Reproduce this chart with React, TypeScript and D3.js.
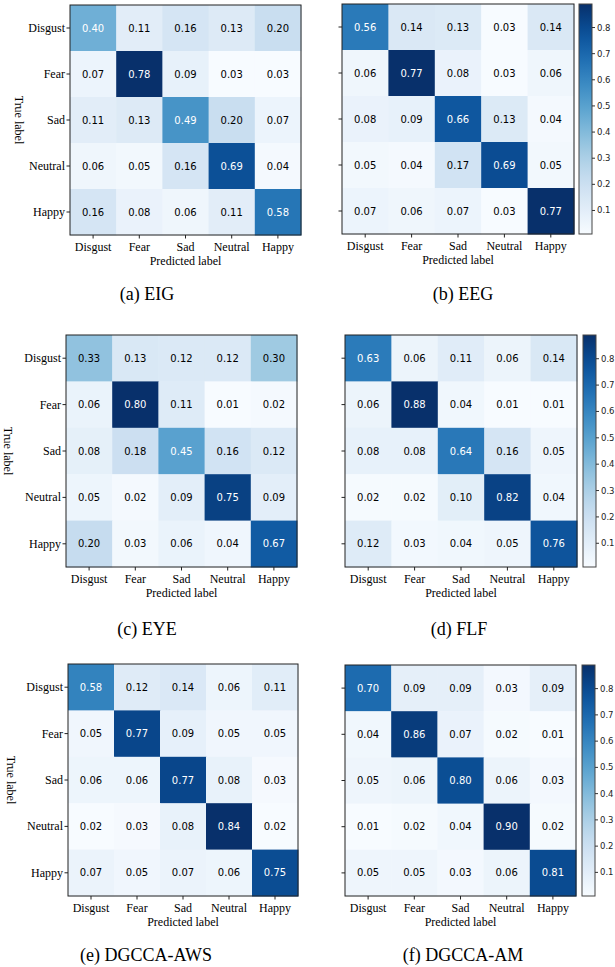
import React from "react";
import * as d3 from "d3";

const labels = ["Disgust", "Fear", "Sad", "Neutral", "Happy"];
const captions = ["(a) EIG", "(b) EEG", "(c) EYE", "(d) FLF", "(e) DGCCA-AWS", "(f) DGCCA-AM"];

const eig = [
  [0.40, 0.11, 0.16, 0.13, 0.20],
  [0.07, 0.78, 0.09, 0.03, 0.03],
  [0.11, 0.13, 0.49, 0.20, 0.07],
  [0.06, 0.05, 0.16, 0.69, 0.04],
  [0.16, 0.08, 0.06, 0.11, 0.58],
];
const eeg = [
  [0.56, 0.14, 0.13, 0.03, 0.14],
  [0.06, 0.77, 0.08, 0.03, 0.06],
  [0.08, 0.09, 0.66, 0.13, 0.04],
  [0.05, 0.04, 0.17, 0.69, 0.05],
  [0.07, 0.06, 0.07, 0.03, 0.77],
];
const eye = [
  [0.33, 0.13, 0.12, 0.12, 0.30],
  [0.06, 0.80, 0.11, 0.01, 0.02],
  [0.08, 0.18, 0.45, 0.16, 0.12],
  [0.05, 0.02, 0.09, 0.75, 0.09],
  [0.20, 0.03, 0.06, 0.04, 0.67],
];
const flf = [
  [0.63, 0.06, 0.11, 0.06, 0.14],
  [0.06, 0.88, 0.04, 0.01, 0.01],
  [0.08, 0.08, 0.64, 0.16, 0.05],
  [0.02, 0.02, 0.10, 0.82, 0.04],
  [0.12, 0.03, 0.04, 0.05, 0.76],
];
const aws = [
  [0.58, 0.12, 0.14, 0.06, 0.11],
  [0.05, 0.77, 0.09, 0.05, 0.05],
  [0.06, 0.06, 0.77, 0.08, 0.03],
  [0.02, 0.03, 0.08, 0.84, 0.02],
  [0.07, 0.05, 0.07, 0.06, 0.75],
];
const am = [
  [0.70, 0.09, 0.09, 0.03, 0.09],
  [0.04, 0.86, 0.07, 0.02, 0.01],
  [0.05, 0.06, 0.80, 0.06, 0.03],
  [0.01, 0.02, 0.04, 0.90, 0.02],
  [0.05, 0.05, 0.03, 0.06, 0.81],
];
const matrices = [eig, eeg, eye, flf, aws, am];

// colorbar range and ticks
const cbarDomain = [0.01, 0.89];
const cbarTicks = [0.1, 0.2, 0.3, 0.4, 0.5, 0.6, 0.7, 0.8];

// layout (pixels)
const layout = [
  { x: 70, y: 5, w: 231, h: 230, yLab: true, tlx: 19, cx: 147, cy: 300 },
  { x: 342, y: 4, w: 232, h: 230, cbar: 579, cx: 463, cy: 300 },
  { x: 66, y: 335, w: 231, h: 232, yLab: true, tlx: 8, cx: 147, cy: 635 },
  { x: 345, y: 335, w: 232, h: 232, cbar: 583, cx: 459, cy: 635 },
  { x: 68, y: 664, w: 230, h: 232, yLab: true, tlx: 11, cx: 146, cy: 961 },
  { x: 345, y: 665, w: 231, h: 231, cbar: 582, cx: 463, cy: 961 },
];

const serif = "'Liberation Serif', 'Times New Roman', serif";
const sans = "'DejaVu Sans', sans-serif";

function Matrix({ data, L, caption, idx }) {
  const flat = data.flat();
  const mx = d3.max(flat);
  const color = d3.scaleSequential(d3.interpolateBlues).domain([d3.min(flat), mx]);
  const xs = d3.scaleBand().domain(labels).range([L.x, L.x + L.w]);
  const ys = d3.scaleBand().domain(labels).range([L.y, L.y + L.h]);
  const bottom = L.y + L.h;
  return (
    <g>
      {data.map((row, i) =>
        row.map((v, j) => (
          <rect key={i + "-" + j} x={xs(labels[j])} y={ys(labels[i])} width={xs.bandwidth() + 0.5} height={ys.bandwidth() + 0.5} fill={color(v)} />
        ))
      )}
      {data.map((row, i) =>
        row.map((v, j) => (
          <text key={"t" + i + "-" + j} x={xs(labels[j]) + xs.bandwidth() / 2} y={ys(labels[i]) + ys.bandwidth() / 2 + 3.5}
            textAnchor="middle" fontFamily={sans} fontSize={10} fill={v > mx / 2 ? "#fff" : "#000"}>
            {v.toFixed(2)}
          </text>
        ))
      )}
      <rect x={L.x} y={L.y} width={L.w} height={L.h} fill="none" stroke="#222" strokeWidth={1} />
      {labels.map((c) => (
        <g key={"x" + c}>
          <line x1={xs(c) + xs.bandwidth() / 2} x2={xs(c) + xs.bandwidth() / 2} y1={bottom} y2={bottom + 3.5} stroke="#222" />
          <text x={xs(c) + xs.bandwidth() / 2} y={bottom + 16} textAnchor="middle" fontFamily={serif} fontSize={12}>{c}</text>
        </g>
      ))}
      {labels.map((c) => (
        <g key={"y" + c}>
          <line x1={L.x - 3.5} x2={L.x} y1={ys(c) + ys.bandwidth() / 2} y2={ys(c) + ys.bandwidth() / 2} stroke="#222" />
          {L.yLab && (
            <text x={L.x - 5} y={ys(c) + ys.bandwidth() / 2 + 4} textAnchor="end" fontFamily={serif} fontSize={12}>{c}</text>
          )}
        </g>
      ))}
      <text x={L.x + L.w / 2} y={bottom + 30} textAnchor="middle" fontFamily={serif} fontSize={12}>Predicted label</text>
      {L.yLab && (
        <text transform={`translate(${L.tlx},${L.y + L.h / 2}) rotate(90)`} textAnchor="middle" dy="0.35em" fontFamily={serif} fontSize={12}>True label</text>
      )}
      {L.cbar && <Colorbar x={L.cbar} y={L.y} h={L.h} id={idx} />}
      <text x={L.cx} y={L.cy} textAnchor="middle" fontFamily={serif} fontSize={18}>{caption}</text>
    </g>
  );
}

function Colorbar({ x, y, h, id }) {
  const w = 13;
  const s = d3.scaleLinear().domain(cbarDomain).range([y + h, y]);
  const stops = d3.range(0, 1.0001, 0.05);
  const gid = "cbar" + id;
  return (
    <g>
      <defs>
        <linearGradient id={gid} x1="0" y1="1" x2="0" y2="0">
          {stops.map((t) => (
            <stop key={t} offset={t} stopColor={d3.interpolateBlues(t)} />
          ))}
        </linearGradient>
      </defs>
      <rect x={x} y={y} width={w} height={h} fill={`url(#${gid})`} stroke="#444" strokeWidth={1} />
      {cbarTicks.map((t) => (
        <g key={t}>
          <line x1={x + w} x2={x + w + 3} y1={s(t)} y2={s(t)} stroke="#333" />
          <text x={x + w + 5} y={s(t) + 3} fontFamily={sans} fontSize={8.5} fill="#222">{t.toFixed(1)}</text>
        </g>
      ))}
    </g>
  );
}

export default function App() {
  return (
    <svg width={615} height={967} style={{ position: "absolute", left: 0, top: 0, background: "#fff" }}>
      {matrices.map((m, k) => (
        <Matrix key={k} idx={k} data={m} L={layout[k]} caption={captions[k]} />
      ))}
    </svg>
  );
}
